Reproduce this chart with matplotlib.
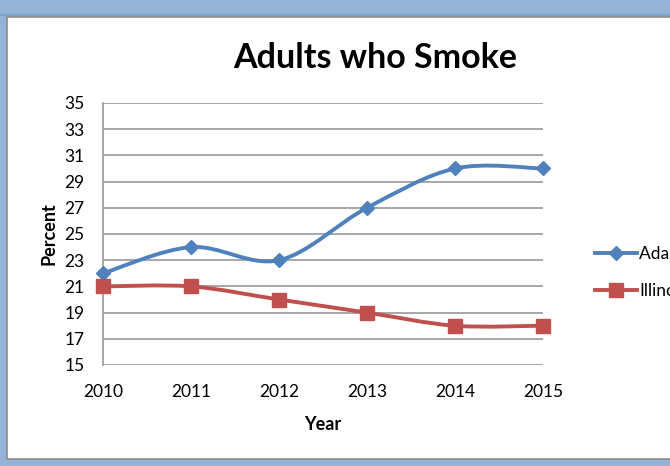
import matplotlib
matplotlib.use("Agg")
import matplotlib.pyplot as plt
import numpy as np
from matplotlib.path import Path
from matplotlib.patches import PathPatch, Rectangle
from matplotlib.lines import Line2D

years = ["2010", "2011", "2012", "2013", "2014", "2015"]
adams = [22, 24, 23, 27, 30, 30]
illinois = [21, 21, 20, 19, 18, 18]
series_names = ["Adams County", "Illinois"]
yticks = [15, 17, 19, 21, 23, 25, 27, 29, 31, 33, 35]

BLUE = "#4f81bd"
RED = "#c0504d"
GRID = "#a0a0a0"
FONT = "Lato"

W, H = 670, 466
fig = plt.figure(figsize=(W / 100, H / 100), dpi=100)
fig.patch.set_facecolor("#95b3d7")

# white chart area
fig.patches.append(Rectangle((7 / W, 1 - 459 / H), 1.0, (459 - 17) / H,
                             transform=fig.transFigure, facecolor="white",
                             edgecolor="#8c8c8c", linewidth=1.2, zorder=-2))
fig.patches.append(Rectangle((0, 1 - 16 / H), 1.0, 2 / H,
                             transform=fig.transFigure, facecolor="#7fa3d0",
                             edgecolor="none", zorder=-2))

ax = fig.add_axes([103 / W, 1 - 365 / H, (543 - 103) / W, (365 - 103) / H])
ax.set_facecolor("none")
ax.set_zorder(3)

x = np.arange(len(years))


def smooth_path(xs, ys):
    pts = np.column_stack([xs, ys]).astype(float)
    n = len(pts)
    verts = [pts[0]]
    codes = [Path.MOVETO]
    for i in range(n - 1):
        p0 = pts[i - 1] if i > 0 else pts[i]
        p1 = pts[i]
        p2 = pts[i + 1]
        p3 = pts[i + 2] if i + 2 < n else pts[i + 1]
        c1 = p1 + (p2 - p0) / 6.0
        c2 = p2 - (p3 - p1) / 6.0
        verts += [c1, c2, p2]
        codes += [Path.CURVE4] * 3
    return Path(verts, codes)


for vals, col, mk, ms in [(adams, BLUE, "D", 7.5), (illinois, RED, "s", 10)]:
    ax.add_patch(PathPatch(smooth_path(x, vals), facecolor="none", edgecolor=col,
                           linewidth=2.8, zorder=3, clip_on=False))
    ax.plot(x, vals, linestyle="none", marker=mk, markersize=ms, color=col,
            zorder=4, clip_on=False)

ax.set_xlim(0, len(years) - 1)
ax.set_ylim(15, 35)
ax.set_yticks(yticks)
ax.set_xticks(x)
ax.set_xticklabels(years)
for yv in yticks:
    ax.axhline(yv, color=GRID, linewidth=1.3, zorder=1)
for s in ["top", "right", "bottom"]:
    ax.spines[s].set_visible(False)
ax.spines["left"].set_color(GRID)
ax.spines["left"].set_linewidth(1.3)
ax.tick_params(axis="both", length=0, labelsize=12.5, colors="black")
ax.tick_params(axis="y", pad=13.5)
ax.tick_params(axis="x", pad=14)
for lab in ax.get_xticklabels() + ax.get_yticklabels():
    lab.set_fontfamily(FONT)

ax.set_xlabel("Year", fontsize=13, fontweight="bold", fontfamily=FONT, labelpad=11)
ax.set_ylabel("Percent", fontsize=13, fontweight="bold", fontfamily=FONT, labelpad=5)

fig.text(375 / W, 1 - 58 / H, "Adults who Smoke", ha="center", va="center",
         fontsize=24.5, fontweight="bold", fontfamily=FONT)

handles = [Line2D([], [], color=BLUE, marker="D", markersize=7.5, linewidth=2.8),
           Line2D([], [], color=RED, marker="s", markersize=10, linewidth=2.8)]
leg = fig.legend(handles, series_names, loc="upper left",
                 bbox_to_anchor=(588 / W, 1 - 239 / H), frameon=False,
                 prop={"family": FONT, "size": 12.5}, handlelength=2.4,
                 handletextpad=0.15, labelspacing=1.2, borderaxespad=0)
leg.set_zorder(3)

fig.savefig("out.png", dpi=100, facecolor=fig.get_facecolor())
